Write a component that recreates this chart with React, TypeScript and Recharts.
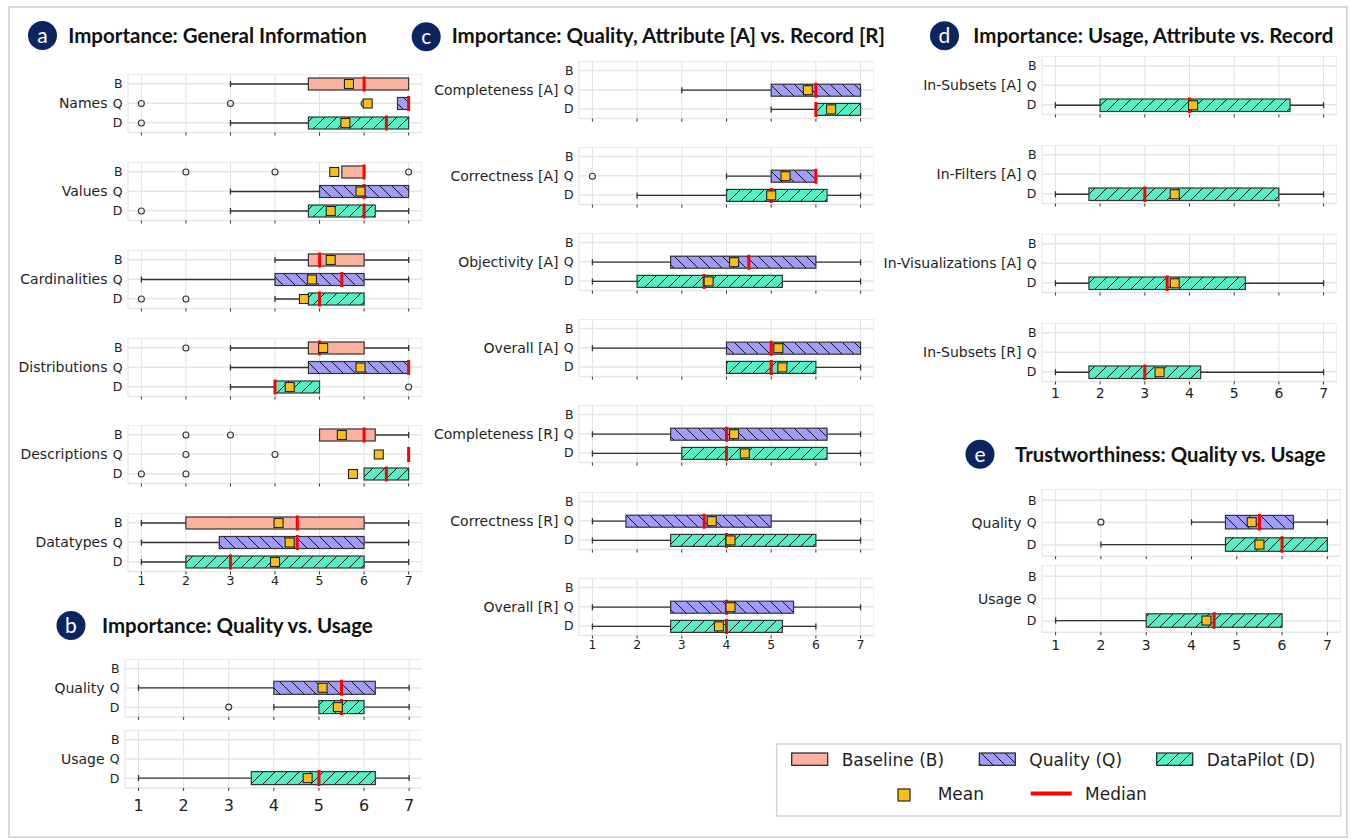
import React from 'react';
import { ComposedChart, Bar, XAxis, YAxis, CartesianGrid } from 'recharts';

// ---------- data ----------
const ROWS = ['B', 'Q', 'D'];
const X_TICKS = [1, 2, 3, 4, 5, 6, 7];
const X_DOMAIN: [number, number] = [0.7, 7.3];
const SCALE_SPAN: [number, number] = [1, 7];

// each box: s = [whiskerLow, q1, median, q3, whiskerHigh, mean], out = outliers
type BoxStat = { s: number[]; out?: number[] } | null;

// (a) Importance: General Information
const GENERAL_GROUPS = ['Names', 'Values', 'Cardinalities', 'Distributions', 'Descriptions', 'Datatypes'];
const GENERAL_B: BoxStat[] = [
  { s: [3, 4.75, 6, 7, 7, 5.66] },
  { s: [5.5, 5.5, 6, 6, 6, 5.33], out: [2, 4, 7] },
  { s: [4, 4.75, 5, 6, 7, 5.25] },
  { s: [3, 4.75, 5, 6, 7, 5.08], out: [2] },
  { s: [5, 5, 6, 6.25, 7, 5.5], out: [2, 3] },
  { s: [1, 2, 4.5, 6, 7, 4.08] },
];
const GENERAL_Q: BoxStat[] = [
  { s: [6.75, 6.75, 7, 7, 7, 6.08], out: [1, 3, 6] },
  { s: [3, 5, 6, 7, 7, 5.92] },
  { s: [1, 4, 5.5, 6, 7, 4.83] },
  { s: [3, 4.75, 7, 7, 7, 5.92] },
  { s: [7, 7, 7, 7, 7, 6.33], out: [2, 4] },
  { s: [1, 2.75, 4.5, 6, 7, 4.33] },
];
const GENERAL_D: BoxStat[] = [
  { s: [3, 4.75, 6.5, 7, 7, 5.58], out: [1] },
  { s: [3, 4.75, 6, 6.25, 7, 5.25], out: [1] },
  { s: [4, 4.75, 5, 6, 6, 4.65], out: [1, 2] },
  { s: [3, 4, 4, 5, 5, 4.33], out: [7] },
  { s: [6, 6, 6.5, 7, 7, 5.75], out: [1, 2] },
  { s: [1, 2, 3, 6, 7, 4.0] },
];

// (b) Importance: Quality vs. Usage
const QU_GROUPS = ['Quality', 'Usage'];
const QU_B: BoxStat[] = [null, null];
const QU_Q: BoxStat[] = [{ s: [1, 4, 5.5, 6.25, 7, 5.08] }, null];
const QU_D: BoxStat[] = [
  { s: [4, 5, 5.5, 6, 7, 5.42], out: [3] },
  { s: [1, 3.5, 5, 6.25, 7, 4.75] },
];

// (c) Importance: Quality, Attribute vs. Record
const QA_GROUPS = [
  'Completeness [A]', 'Correctness [A]', 'Objectivity [A]', 'Overall [A]',
  'Completeness [R]', 'Correctness [R]', 'Overall [R]',
];
const QA_B: BoxStat[] = [null, null, null, null, null, null, null];
const QA_Q: BoxStat[] = [
  { s: [3, 5, 6, 7, 7, 5.82] },
  { s: [4, 5, 6, 6, 7, 5.32], out: [1] },
  { s: [1, 2.75, 4.5, 6, 7, 4.17] },
  { s: [1, 4, 5, 7, 7, 5.16] },
  { s: [1, 2.75, 4, 6.25, 7, 4.17] },
  { s: [1, 1.75, 3.5, 5, 7, 3.67] },
  { s: [1, 2.75, 4, 5.5, 7, 4.09] },
];
const QA_D: BoxStat[] = [
  { s: [5, 6, 6, 7, 7, 6.34] },
  { s: [2, 4, 5, 6.25, 7, 5.0] },
  { s: [1, 2, 3.5, 5.25, 7, 3.6] },
  { s: [4, 4, 5, 6, 7, 5.25] },
  { s: [1, 3, 4, 6.25, 7, 4.41] },
  { s: [1, 2.75, 4, 6, 7, 4.09] },
  { s: [1, 2.75, 4, 5.25, 6, 3.83] },
];

// (d) Importance: Usage, Attribute vs. Record
const UA_GROUPS = ['In-Subsets [A]', 'In-Filters [A]', 'In-Visualizations [A]', 'In-Subsets [R]'];
const UA_B: BoxStat[] = [null, null, null, null];
const UA_Q: BoxStat[] = [null, null, null, null];
const UA_D: BoxStat[] = [
  { s: [1, 2, 4, 6.25, 7, 4.08] },
  { s: [1, 1.75, 3, 6, 7, 3.67] },
  { s: [1, 1.75, 3.5, 5.25, 7, 3.67] },
  { s: [1, 1.75, 3, 4.25, 7, 3.33] },
];

// (e) Trustworthiness: Quality vs. Usage
const TR_GROUPS = ['Quality', 'Usage'];
const TR_B: BoxStat[] = [null, null];
const TR_Q: BoxStat[] = [{ s: [4, 4.75, 5.5, 6.25, 7, 5.33], out: [2] }, null];
const TR_D: BoxStat[] = [
  { s: [2, 4.75, 6, 7, 7, 5.5] },
  { s: [1, 3, 4.5, 6, 6, 4.33] },
];

const LEGEND_SERIES = ['Baseline (B)', 'Quality (Q)', 'DataPilot (D)'];

// ---------- styles ----------
const FILL: Record<string, string> = { B: '#fab1a0', Q: '#a29bfe', D: '#55efc4' };
const HATCH: Record<string, string | null> = { B: null, Q: 'url(#hatchQ)', D: 'url(#hatchD)' };
const MEAN_FILL = '#fbbf17';
const MEDIAN = '#ff0000';
const INK = '#333333';
const TEXT = '#1e1e1e';
const FONT = 'DejaVu Sans, Verdana, sans-serif';
const TITLE_FONT = 'Lato, "Open Sans", sans-serif';
const LABEL_W = 180;
const XH = 34;

function BoxShape(props: any) {
  const { x, y, width, height, payload } = props;
  const b: BoxStat = payload?.box;
  if (!b || x == null || !isFinite(width)) return <g />;
  const [lo, q1, med, q3, hi, mean] = b.s;
  const px = (v: number) => x + ((v - SCALE_SPAN[0]) / (SCALE_SPAN[1] - SCALE_SPAN[0])) * width;
  const cy = y + height / 2;
  const row = payload.row as string;
  const cap = 3;
  const ms = 9;
  return (
    <g>
      {lo < q1 && (
        <g stroke={INK} strokeWidth={1.3}>
          <line x1={px(lo)} x2={px(q1)} y1={cy} y2={cy} />
          <line x1={px(lo)} x2={px(lo)} y1={cy - cap} y2={cy + cap} />
        </g>
      )}
      {hi > q3 && (
        <g stroke={INK} strokeWidth={1.3}>
          <line x1={px(q3)} x2={px(hi)} y1={cy} y2={cy} />
          <line x1={px(hi)} x2={px(hi)} y1={cy - cap} y2={cy + cap} />
        </g>
      )}
      {q3 > q1 && (
        <g>
          <rect x={px(q1)} y={y} width={px(q3) - px(q1)} height={height} fill={FILL[row]} />
          {HATCH[row] && (
            <rect x={px(q1)} y={y} width={px(q3) - px(q1)} height={height} fill={HATCH[row] as string} />
          )}
          <rect x={px(q1)} y={y} width={px(q3) - px(q1)} height={height} fill="none" stroke={INK} strokeWidth={1.2} />
        </g>
      )}
      {(b.out || []).map((o, i) => (
        <circle key={i} cx={px(o)} cy={cy} r={3} fill="none" stroke={INK} strokeWidth={1.1} />
      ))}
      <line x1={px(med)} x2={px(med)} y1={y - 1.5} y2={y + height + 1.5} stroke={MEDIAN} strokeWidth={3} />
      <rect x={px(mean) - ms / 2} y={cy - ms / 2} width={ms} height={ms} fill={MEAN_FILL} stroke="#222" strokeWidth={1.1} />
    </g>
  );
}

type GroupProps = {
  plotLeft: number;
  plotTop: number;
  plotW: number;
  rowH: number;
  boxH: number;
  group: string;
  boxes: BoxStat[];
  showX: boolean;
  tickFs: number;
  tickMargin: number;
};

function GroupChart(p: GroupProps) {
  const data = ROWS.map((r, i) => ({ row: r, span: SCALE_SPAN, box: p.boxes[i] }));
  const plotH = p.rowH * 3;
  const W = LABEL_W + p.plotW;
  const H = plotH + XH;
  const yTick = (tp: any) => {
    const v = tp.payload?.value;
    return (
      <g>
        <text x={LABEL_W - 5.5} y={tp.y} dy="0.36em" textAnchor="end" fontSize={12.5} fill={TEXT} fontFamily={FONT}>
          {v}
        </text>
        {v === 'Q' && (
          <text x={LABEL_W - 20.5} y={tp.y} dy="0.36em" textAnchor="end" fontSize={14} fill={TEXT} fontFamily={FONT}>
            {p.group}
          </text>
        )}
      </g>
    );
  };
  const xTick = (tp: any) => {
    if (!p.showX) return <g />;
    return (
      <text x={tp.x} y={tp.y} dy="0.71em" textAnchor="middle" fontSize={p.tickFs} fill={TEXT} fontFamily={FONT}>
        {tp.payload?.value}
      </text>
    );
  };
  return (
    <div style={{ position: 'absolute', left: p.plotLeft - LABEL_W, top: p.plotTop, width: W, height: H }}>
      <ComposedChart
        layout="vertical"
        width={W}
        height={H}
        data={data}
        margin={{ top: 0, right: 0, bottom: 0, left: 0 }}
        barCategoryGap={0}
      >
        <CartesianGrid horizontal={false} stroke="#e1e1e1" strokeWidth={1} />
        <CartesianGrid vertical={false} stroke="#e6e6e6" strokeWidth={1.5} />
        <XAxis
          type="number"
          domain={X_DOMAIN}
          ticks={X_TICKS}
          allowDataOverflow
          interval={0}
          axisLine={false}
          tickLine={{ stroke: '#333', strokeWidth: 1 }}
          tickSize={3}
          tickMargin={p.tickMargin}
          height={XH}
          tick={xTick}
        />
        <YAxis
          type="category"
          dataKey="row"
          width={LABEL_W}
          interval={0}
          axisLine={false}
          tickLine={false}
          tick={yTick}
        />
        <Bar dataKey="span" barSize={p.boxH} isAnimationActive={false} shape={(sp: any) => <BoxShape {...sp} />} />
      </ComposedChart>
    </div>
  );
}

type PanelLayout = {
  plotLeft: number;
  plotW: number;
  rowH: number;
  boxH: number;
  firstB: number;
  groupStep: number;
  tickFs: number;
  tickMargin: number;
};

function Panel(props: { layout: PanelLayout; groups: string[]; b: BoxStat[]; q: BoxStat[]; d: BoxStat[] }) {
  const L = props.layout;
  return (
    <>
      {props.groups.map((g, i) => (
        <GroupChart
          key={g + i}
          plotLeft={L.plotLeft}
          plotTop={L.firstB + i * L.groupStep - L.rowH / 2}
          plotW={L.plotW}
          rowH={L.rowH}
          boxH={L.boxH}
          group={g}
          boxes={[props.b[i], props.q[i], props.d[i]]}
          showX={i === props.groups.length - 1}
          tickFs={L.tickFs}
          tickMargin={L.tickMargin}
        />
      ))}
    </>
  );
}

const LAYOUT_A: PanelLayout = { plotLeft: 128.3, plotW: 294, rowH: 19.5, boxH: 12, firstB: 84, groupStep: 87.75, tickFs: 12.5, tickMargin: 2 };
const LAYOUT_B: PanelLayout = { plotLeft: 124.5, plotW: 297.7, rowH: 19.3, boxH: 13, firstB: 668.3, groupStep: 71.7, tickFs: 16, tickMargin: 9 };
const LAYOUT_C: PanelLayout = { plotLeft: 579.3, plotW: 295, rowH: 19.2, boxH: 12, firstB: 70.3, groupStep: 86.17, tickFs: 12.5, tickMargin: 2 };
const LAYOUT_D: PanelLayout = { plotLeft: 1041.6, plotW: 295, rowH: 19.5, boxH: 12.5, firstB: 65.7, groupStep: 89.1, tickFs: 14, tickMargin: 4 };
const LAYOUT_E: PanelLayout = { plotLeft: 1042.1, plotW: 299, rowH: 22.4, boxH: 13.5, firstB: 500, groupStep: 75.7, tickFs: 14, tickMargin: 5 };

const TITLES = [
  { badge: 'a', cx: 42.5, cy: 35.5, text: 'Importance: General Information', x: 68.3, w: 298.4, base: 43.3 },
  { badge: 'b', cx: 71, cy: 625.5, text: 'Importance: Quality vs. Usage', x: 102, w: 270.7, base: 633.3 },
  { badge: 'c', cx: 426.2, cy: 36.7, text: 'Importance: Quality, Attribute [A] vs. Record [R]', x: 451.7, w: 433.3, base: 43.3 },
  { badge: 'd', cx: 944.5, cy: 35.8, text: 'Importance: Usage, Attribute vs. Record', x: 973.3, w: 360, base: 42.7 },
  { badge: 'e', cx: 980, cy: 454.2, text: 'Trustworthiness: Quality vs. Usage', x: 1015, w: 310.7, base: 461.7 },
];

function Background() {
  const legendRow1 = [
    { key: 'B', px: 791.7, tx: 841.7 },
    { key: 'Q', px: 979.3, tx: 1029.3 },
    { key: 'D', px: 1156.7, tx: 1206.7 },
  ];
  return (
    <svg width={1351} height={839} style={{ position: 'absolute', left: 0, top: 0 }}>
      <defs>
        <pattern id="hatchQ" patternUnits="userSpaceOnUse" width={12} height={12}>
          <path d="M0,0 L12,12 M-3,9 L3,15 M9,-3 L15,3" stroke="#111" strokeWidth={1} />
        </pattern>
        <pattern id="hatchD" patternUnits="userSpaceOnUse" width={12} height={12}>
          <path d="M0,12 L12,0 M-3,3 L3,-3 M9,15 L15,9" stroke="#111" strokeWidth={1} />
        </pattern>
      </defs>
      <rect x={9} y={7} width={1338} height={830} fill="#fff" stroke="#d9d9d9" strokeWidth={2} />
      {TITLES.map((t) => (
        <g key={t.badge}>
          <circle cx={t.cx} cy={t.cy} r={14.5} fill="#0b2560" />
          <text x={t.cx} y={t.cy + 7.5} textAnchor="middle" fontSize={21} fill="#fff" fontFamily={TITLE_FONT}>
            {t.badge}
          </text>
          <text
            x={t.x}
            y={t.base}
            fontSize={20}
            fontWeight={700}
            fill="#111"
            fontFamily={TITLE_FONT}
            textLength={t.w}
            lengthAdjust="spacingAndGlyphs"
          >
            {t.text}
          </text>
        </g>
      ))}
      {/* legend */}
      <rect x={776.7} y={744} width={564} height={72} fill="#fff" stroke="#d4d4d4" strokeWidth={1.5} />
      {legendRow1.map((l, i) => (
        <g key={l.key}>
          <rect x={l.px} y={753} width={36} height={12.3} fill={FILL[l.key]} />
          {HATCH[l.key] && <rect x={l.px} y={753} width={36} height={12.3} fill={HATCH[l.key] as string} />}
          <rect x={l.px} y={753} width={36} height={12.3} fill="none" stroke="#222" strokeWidth={1.2} />
          <text x={l.tx} y={765.7} fontSize={17} fill={TEXT} fontFamily={FONT}>
            {LEGEND_SERIES[i]}
          </text>
        </g>
      ))}
      <rect x={898} y={789} width={12} height={12} fill={MEAN_FILL} stroke="#222" strokeWidth={1.2} />
      <text x={937.7} y={800.3} fontSize={17} fill={TEXT} fontFamily={FONT}>Mean</text>
      <line x1={1030.7} x2={1071.7} y1={793.5} y2={793.5} stroke={MEDIAN} strokeWidth={4} />
      <text x={1085} y={800.3} fontSize={17} fill={TEXT} fontFamily={FONT}>Median</text>
    </svg>
  );
}

export default function App() {
  return (
    <div
      style={{
        position: 'absolute',
        left: 0,
        top: 0,
        width: 1351,
        height: 839,
        background: '#fff',
        overflow: 'hidden',
        fontFamily: FONT,
      }}
    >
      <Background />
      <Panel layout={LAYOUT_A} groups={GENERAL_GROUPS} b={GENERAL_B} q={GENERAL_Q} d={GENERAL_D} />
      <Panel layout={LAYOUT_B} groups={QU_GROUPS} b={QU_B} q={QU_Q} d={QU_D} />
      <Panel layout={LAYOUT_C} groups={QA_GROUPS} b={QA_B} q={QA_Q} d={QA_D} />
      <Panel layout={LAYOUT_D} groups={UA_GROUPS} b={UA_B} q={UA_Q} d={UA_D} />
      <Panel layout={LAYOUT_E} groups={TR_GROUPS} b={TR_B} q={TR_Q} d={TR_D} />
    </div>
  );
}
